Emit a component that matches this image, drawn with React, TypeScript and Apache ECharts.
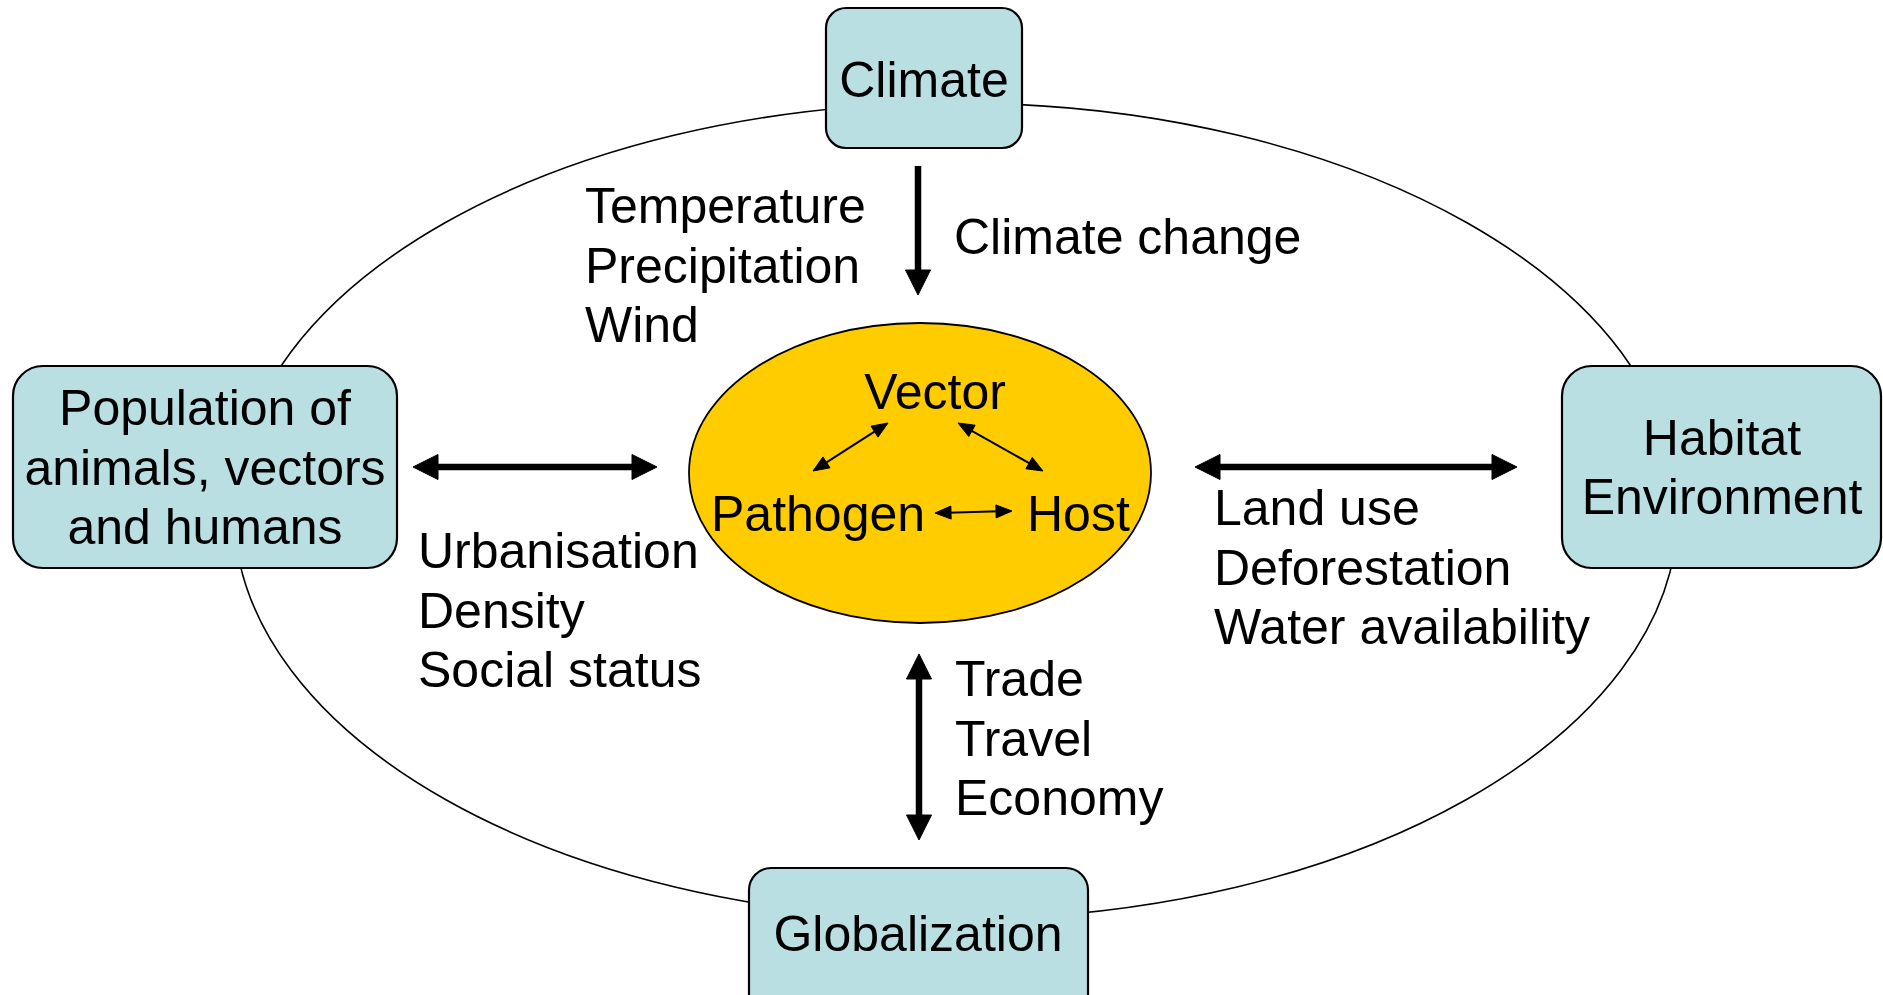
import React, { useEffect, useRef } from "react";
import * as echarts from "echarts";

// ---- Diagram content ----
const BOX_LABELS: string[][] = [
  ["Climate"],
  ["Population of", "animals, vectors", "and humans"],
  ["Habitat", "Environment"],
  ["Globalization"],
];
const CORE_LABELS = ["Vector", "Pathogen", "Host"];
const CLIMATE_FACTORS = ["Temperature", "Precipitation", "Wind"];
const CLIMATE_CHANGE = ["Climate change"];
const POPULATION_FACTORS = ["Urbanisation", "Density", "Social status"];
const HABITAT_FACTORS = ["Land use", "Deforestation", "Water availability"];
const GLOBAL_FACTORS = ["Trade", "Travel", "Economy"];

const FONT = '50px "Liberation Sans", Arial, sans-serif';
const BOX_FILL = "#BADFE3";
const CORE_FILL = "#FFCC00";

function txt(text: string, x: number, y: number, align: string) {
  return {
    type: "text",
    x,
    y,
    z: 10,
    style: {
      text,
      fill: "#000",
      font: FONT,
      align,
      verticalAlign: "middle",
      textAlign: align,
      textVerticalAlign: "middle",
    },
  };
}

function lines(arr: string[], x: number, y0: number, step: number, align: string) {
  return arr.map((t, i) => txt(t, x, y0 + i * step, align));
}

function arrow(
  x1: number, y1: number, x2: number, y2: number,
  lw: number, hl: number, hw: number, both: boolean
) {
  const dx = x2 - x1, dy = y2 - y1;
  const L = Math.hypot(dx, dy);
  const ux = dx / L, uy = dy / L;
  const px = -uy, py = ux;
  const head = (tx: number, ty: number, dxu: number, dyu: number) => ({
    type: "polygon",
    z: 8,
    shape: {
      points: [
        [tx, ty],
        [tx - dxu * hl + px * hw / 2, ty - dyu * hl + py * hw / 2],
        [tx - dxu * hl - px * hw / 2, ty - dyu * hl - py * hw / 2],
      ],
    },
    style: { fill: "#000", stroke: "#000", lineWidth: 1 },
  });
  const sx1 = both ? x1 + ux * hl * 0.8 : x1;
  const sy1 = both ? y1 + uy * hl * 0.8 : y1;
  const sx2 = x2 - ux * hl * 0.8;
  const sy2 = y2 - uy * hl * 0.8;
  const els: any[] = [
    {
      type: "line",
      z: 8,
      shape: { x1: sx1, y1: sy1, x2: sx2, y2: sy2 },
      style: { stroke: "#000", lineWidth: lw },
    },
    head(x2, y2, ux, uy),
  ];
  if (both) els.push(head(x1, y1, -ux, -uy));
  return els;
}

function box(x: number, y: number, w: number, h: number, r: number) {
  return {
    type: "rect",
    z: 5,
    shape: { x, y, width: w, height: h, r },
    style: { fill: BOX_FILL, stroke: "#000", lineWidth: 2.2 },
  };
}

export default function App() {
  const ref = useRef<HTMLDivElement>(null);
  useEffect(() => {
    if (!ref.current) return;
    const chart = echarts.init(ref.current, undefined, { renderer: "svg" });
    const elements: any[] = [
      // outer ellipse
      {
        type: "ellipse",
        z: 1,
        shape: { cx: 956, cy: 511, rx: 722, ry: 408 },
        style: { fill: "none", stroke: "#000", lineWidth: 1.6 },
      },
      // boxes
      box(826, 8, 196, 140, 20),
      box(13, 366, 384, 202, 30),
      box(1562, 366, 319, 202, 30),
      box(749, 868, 339, 150, 22),
      // core ellipse
      {
        type: "ellipse",
        z: 5,
        shape: { cx: 920, cy: 473, rx: 231, ry: 150 },
        style: { fill: CORE_FILL, stroke: "#000", lineWidth: 1.8 },
      },
      // box labels
      ...lines(BOX_LABELS[0], 924, 80, 60, "center"),
      ...lines(BOX_LABELS[1], 205, 408, 59.5, "center"),
      ...lines(BOX_LABELS[2], 1722, 438, 59, "center"),
      ...lines(BOX_LABELS[3], 918, 934, 60, "center"),
      // core labels
      txt(CORE_LABELS[0], 935, 392, "center"),
      txt(CORE_LABELS[1], 711, 514, "left"),
      txt(CORE_LABELS[2], 1027, 514, "left"),
      // factor texts
      ...lines(CLIMATE_FACTORS, 585, 206, 59.5, "left"),
      ...lines(CLIMATE_CHANGE, 954, 237, 60, "left"),
      ...lines(POPULATION_FACTORS, 418, 551, 59.5, "left"),
      ...lines(HABITAT_FACTORS, 1214, 508, 59.5, "left"),
      ...lines(GLOBAL_FACTORS, 955, 679, 59.5, "left"),
      // big arrows
      ...arrow(918, 166, 918, 295, 6.5, 25, 25, false),
      ...arrow(413, 467, 657, 467, 6.5, 25, 25, true),
      ...arrow(1195, 467, 1517, 467, 6.5, 25, 25, true),
      ...arrow(919, 654, 919, 840, 6.5, 25, 25, true),
      // small arrows
      ...arrow(888, 423, 813, 471, 2, 16, 13, true),
      ...arrow(958, 423, 1043, 471, 2, 16, 13, true),
      ...arrow(935, 513, 1012, 511, 2, 16, 13, true),
    ];
    chart.setOption({
      animation: false,
      backgroundColor: "#fff",
      graphic: { elements },
    });
    return () => chart.dispose();
  }, []);
  return (
    <div
      ref={ref}
      style={{ position: "fixed", left: 0, top: 0, width: 1883, height: 995, background: "#fff" }}
    />
  );
}
